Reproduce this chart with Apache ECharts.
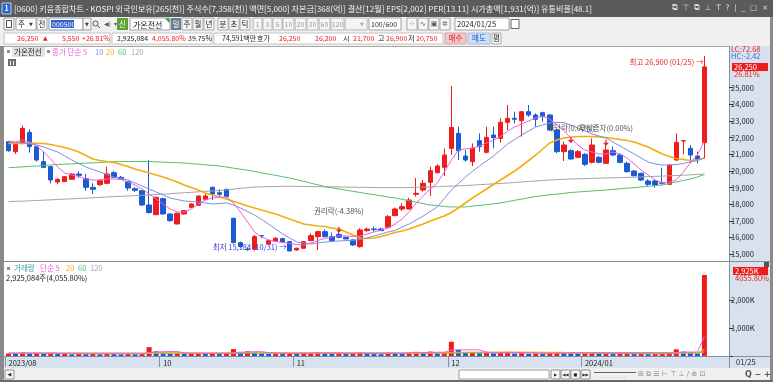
<!DOCTYPE html>
<html><head><meta charset="utf-8">
<script src="https://cdn.jsdelivr.net/npm/echarts@6/dist/echarts.min.js"></script>
<style>html,body{margin:0;padding:0;background:#fff;overflow:hidden}#c{width:773px;height:382px}</style>
</head><body><div id="c"></div>
<script>
// ---------------- DATA ----------------
const dates = ['2023/08/29','2023/08/30','2023/08/31','2023/09/01','2023/09/04','2023/09/05','2023/09/06','2023/09/07','2023/09/08','2023/09/11','2023/09/12','2023/09/13','2023/09/14','2023/09/15','2023/09/18','2023/09/19','2023/09/20','2023/09/21','2023/09/22','2023/09/25','2023/09/26','2023/09/27','2023/10/04','2023/10/05','2023/10/06','2023/10/10','2023/10/11','2023/10/12','2023/10/13','2023/10/16','2023/10/17','2023/10/18','2023/10/19','2023/10/20','2023/10/23','2023/10/24','2023/10/25','2023/10/26','2023/10/27','2023/10/30','2023/10/31','2023/11/01','2023/11/02','2023/11/03','2023/11/06','2023/11/07','2023/11/08','2023/11/09','2023/11/10','2023/11/13','2023/11/14','2023/11/15','2023/11/16','2023/11/17','2023/11/20','2023/11/21','2023/11/22','2023/11/23','2023/11/24','2023/11/27','2023/11/28','2023/11/29','2023/11/30','2023/12/01','2023/12/04','2023/12/05','2023/12/06','2023/12/07','2023/12/08','2023/12/11','2023/12/12','2023/12/13','2023/12/14','2023/12/15','2023/12/18','2023/12/19','2023/12/20','2023/12/21','2023/12/22','2023/12/26','2023/12/27','2023/12/28','2024/01/02','2024/01/03','2024/01/04','2024/01/05','2024/01/08','2024/01/09','2024/01/10','2024/01/11','2024/01/12','2024/01/15','2024/01/16','2024/01/17','2024/01/18','2024/01/19','2024/01/22','2024/01/23','2024/01/24','2024/01/25'];
const open = [21760,21160,21660,22320,21460,20560,20260,19340,19360,19500,19820,19540,19020,19180,19260,19900,19620,19360,18940,18820,17960,17380,18340,17420,16820,17420,17820,17940,18300,19020,18700,18900,17160,15700,15300,15300,16120,15620,15800,15940,15760,15260,15360,15820,16060,16360,16060,16200,16020,15860,15460,16420,16520,16520,16620,17320,17720,17720,18600,18860,19320,19900,20220,21360,22260,20900,20560,21820,21120,22160,21960,22920,23160,23020,23560,23360,23500,23360,22460,21160,21220,20820,21000,20520,20820,20460,21220,20960,20460,20000,19860,19400,19400,19300,19200,20660,21800,21360,20900,21700];
const close = [21220,21620,22560,21460,20660,20220,19460,19500,19660,19820,19740,19020,18900,19420,19820,19620,19500,18980,18840,17960,17500,18420,17420,17020,17460,17620,18020,18500,18500,18620,18600,18460,15700,15460,15280,16060,16100,15820,15960,15740,15200,15360,15760,16120,16360,16060,15820,16020,15920,15560,16460,16520,16480,16420,17260,17720,17860,18260,18660,19260,20020,20300,20960,22620,21220,20660,21360,21460,22020,22000,22920,23160,23100,23560,23360,23100,23260,22460,21160,21560,20720,21160,20400,21560,20520,21260,20960,20520,19960,19720,19460,19200,19160,19260,20360,21720,21820,20960,20700,26250];
const low = [21150,21020,21600,21100,20560,20200,19260,19200,19340,19480,19580,18820,18620,19100,19200,19600,19460,18820,18740,17900,17460,17340,17380,16960,16800,17380,17780,17900,18240,18260,18400,18420,15660,15400,15220,15260,15960,15580,15740,15700,15184,15220,15320,15800,15260,16020,15780,15960,15900,15500,15400,16360,16360,16400,16600,17300,17600,17700,18460,18760,18500,19860,19700,20960,20660,20560,20300,21160,21060,21360,21700,22460,22860,22060,23260,22660,22960,22400,21060,20600,20700,20760,20300,20460,20460,20420,20900,20460,19900,19660,19400,19060,19000,19180,19160,20600,21000,20460,20460,20750];
const high = [21800,21700,22740,22500,21500,21160,20300,19560,19700,19860,19980,19820,19260,19500,20260,20000,19700,19400,19020,18860,20660,18460,18400,17460,17500,17660,18060,18540,18620,19060,18900,18940,17200,15760,15400,16160,16140,15880,16040,16000,15800,15400,15800,16260,16400,16500,16300,16360,16060,15900,16560,16600,16660,16600,17360,17800,18060,18400,19580,19460,20260,20400,21360,25100,22660,21260,21660,22260,22660,22660,23160,23960,23560,23600,23960,23460,23560,23400,22560,21760,21300,21260,21060,21960,20900,21660,21460,21060,20560,20060,19900,19500,19500,20200,20400,22260,21820,21560,21160,26900];
const ma5 = [21800,21740,21860,21740,21500,21140,20720,20240,19880,19760,19670,19520,19460,19460,19520,19520,19490,19340,19160,18920,18620,18320,18020,17720,17540,17540,17720,18020,18260,18380,18440,18440,18080,17540,16940,16340,16040,15860,15770,15710,15650,15590,15560,15680,15830,15950,16040,16100,16100,16070,16100,16220,16340,16460,16580,16820,17120,17540,18080,18500,18920,19280,19940,20660,21260,21320,21380,21500,21680,21860,22070,22400,22640,22820,23000,23180,23300,23120,22760,22400,21980,21560,21260,21140,21020,21020,21140,21020,20780,20420,20060,19760,19460,19280,19340,19460,19940,20480,20960,21800];
const ma10 = [21740,21710,21680,21660,21560,21440,21290,21140,20900,20660,20450,20240,20090,19940,19790,19640,19550,19460,19280,19100,18920,18740,18560,18380,18290,18200,18170,18140,18080,18020,18050,18080,17960,17780,17570,17360,17090,16820,16520,16220,15980,15740,15680,15620,15680,15740,15770,15800,15820,15830,15890,15980,16100,16220,16340,16430,16640,16820,17060,17300,17570,17840,18350,18860,19250,19640,19970,20300,20600,20900,21260,21620,21890,22160,22400,22640,22760,22880,22910,22910,22760,22580,22400,22220,22100,21980,21740,21500,21260,21020,20780,20540,20420,20360,20360,20390,20450,20540,20630,20780];
const ma20 = [21660,21660,21660,21660,21660,21650,21590,21500,21410,21290,21140,20930,20720,20630,20570,20510,20390,20270,20120,20000,19880,19760,19640,19490,19340,19160,19010,18860,18680,18560,18440,18320,18170,18050,17900,17780,17660,17540,17420,17270,17120,16970,16820,16760,16700,16670,16580,16520,16340,16160,15980,15950,15980,16070,16190,16310,16400,16520,16670,16820,17000,17150,17300,17510,17780,18080,18380,18650,18920,19190,19460,19730,20000,20300,20630,20960,21320,21680,21860,21980,22040,22070,22070,22070,22040,22010,21950,21890,21830,21740,21590,21440,21230,21020,20870,20750,20690,20630,20660,20780];
const ma60 = [20200,20220,20250,20280,20300,20330,20360,20390,20410,20430,20450,20470,20490,20510,20540,20560,20560,20570,20570,20570,20570,20550,20530,20510,20500,20480,20440,20410,20370,20340,20300,20240,20170,20110,20040,19970,19890,19810,19740,19660,19580,19480,19380,19270,19170,19070,18990,18920,18850,18780,18710,18640,18580,18510,18440,18380,18300,18210,18130,18040,17960,17920,17870,17840,17840,17840,17890,17940,17980,18030,18080,18160,18240,18310,18390,18470,18520,18570,18610,18660,18710,18740,18770,18800,18830,18860,18900,18930,18970,19000,19040,19080,19120,19160,19250,19340,19430,19520,19640,19790];
const ma120 = [18160,18180,18190,18210,18230,18250,18270,18290,18310,18330,18350,18370,18390,18420,18440,18460,18480,18500,18520,18540,18560,18590,18610,18640,18670,18690,18720,18750,18780,18800,18830,18870,18910,18960,19000,19040,19050,19060,19070,19080,19080,19080,19070,19060,19060,19050,19050,19040,19030,19030,19020,19020,19010,19000,19000,19000,19000,19010,19020,19030,19040,19060,19080,19090,19110,19130,19150,19180,19200,19230,19250,19280,19310,19340,19370,19400,19430,19460,19480,19500,19520,19530,19540,19560,19570,19580,19590,19600,19620,19630,19640,19660,19680,19690,19710,19730,19750,19770,19790,19820];
// volume in thousands of shares
const vol = [90,75,130,95,110,80,100,70,85,60,75,70,90,65,95,70,60,80,65,100,320,170,120,90,110,75,85,100,80,95,70,85,250,150,170,130,90,75,85,70,110,85,95,110,140,100,80,95,70,80,130,85,70,65,120,100,90,130,150,120,160,110,140,516,217,110,140,100,130,95,140,150,90,110,80,90,70,110,140,100,90,75,95,120,80,100,70,85,95,70,80,65,70,90,110,242,160,120,95,2925];
const vma5 = [95,92,100,98,100,98,103,91,89,79,78,72,76,72,79,78,76,74,74,75,125,147,155,160,162,113,96,92,90,89,86,86,116,130,145,157,158,123,110,90,86,85,87,90,108,108,105,104,97,85,91,92,87,86,94,94,89,101,118,118,130,134,136,209,229,219,225,217,143,115,121,123,121,117,114,104,88,92,98,102,102,103,100,96,93,94,94,91,90,84,81,79,76,75,83,115,134,144,145,708];
const vma20 = [95,95,96,96,97,97,97,96,96,95,94,93,92,91,91,90,89,88,87,87,98,103,105,106,107,106,106,107,108,109,110,111,118,122,126,128,128,126,125,124,115,110,108,106,107,107,106,106,105,97,97,97,96,95,96,96,97,100,103,106,108,109,111,131,135,136,138,139,141,142,143,144,144,143,141,139,136,134,134,133,109,106,104,103,102,101,100,99,98,97,96,95,94,94,95,102,106,108,108,250];
const vma60 = [102,102,101,101,101,100,100,100,99,99,99,99,98,98,98,98,97,97,97,97,100,101,101,101,101,101,101,101,101,101,101,101,104,105,106,107,107,107,107,107,107,107,107,107,108,108,108,108,108,108,108,108,108,108,108,108,108,109,110,110,111,111,112,119,122,121,122,122,122,122,123,124,124,124,124,124,124,124,124,125,123,122,121,121,121,121,121,120,120,120,120,120,119,119,119,121,122,122,122,170];
const vma120 = [108,108,108,108,108,107,107,107,107,107,107,107,106,106,106,106,106,106,105,105,107,107,107,107,107,107,107,107,107,107,107,107,109,109,110,110,110,110,110,110,109,109,109,109,109,109,109,109,108,108,108,108,108,108,108,108,108,108,108,108,108,108,108,112,113,113,113,113,113,113,113,113,113,113,113,113,113,113,113,113,113,113,113,113,113,113,113,113,113,113,114,114,114,114,114,115,116,116,116,140];
// x-axis month labels
const tickIdx = [0,22,41,63,82];
const tickText = ['2023/08','10','11','12','2024/01'];
// price axes: data range of panel and labelled tick range
const priceLo = 14000, priceHi = 28000;
const priceTickMin = 15000, priceTickMax = 25000, priceStep = 1000;
const volHi = 3000, volTickMax = 2000, volStep = 1000;
// corporate-event markers
const evIdx = [47,80,85];
const evText = ['권리락(-4.38%)','배당락(0.00%)','무상증자(0.00%)'];
const evArrowPrice = [16480,21860,21700];
const evLabelPrice = [17600,22600,22600];

// ---------------- STYLE ----------------
const FONT = '"Noto Sans CJK KR","Noto Sans",sans-serif';
const RED = '#ee1c1c', BLUE = '#1a5bd4';
const C5 = '#f060dc', C10 = '#7c8ee6', C20 = '#f5ac10', C60 = '#55c06a', C120 = '#a4a4a4';
const fmt = v => v.toLocaleString('en-US');
const cats = dates.concat([' ', '  ', '   ']);

let hiIdx = 0, loIdx = 0;
high.forEach((v,i)=>{ if (v > high[hiIdx]) hiIdx = i; });
low.forEach((v,i)=>{ if (v < low[loIdx]) loIdx = i; });

// ---------------- CHROME ----------------
const G = [];
const R = (x,y,w,h,fill,stroke,z) => G.push({type:'rect',silent:true,z:z===undefined?-10:z,shape:{x,y,width:w,height:h},style:{fill:fill||'none',stroke:stroke||null,lineWidth:1}});
const L = (x1,y1,x2,y2,c,z) => G.push({type:'line',silent:true,z:z===undefined?-9:z,shape:{x1,y1,x2,y2},style:{stroke:c,lineWidth:1}});
const T = (x,y,t,c,s,o) => { o=o||{}; G.push({type:'text',silent:true,z:o.z===undefined?40:o.z,x:x,y:y,style:{text:t,fill:c,font:(o.w||'normal')+' '+s+'px '+(o.f||FONT),textAlign:o.a||'left',textVerticalAlign:'middle',align:o.a||'left',verticalAlign:'middle'}}); };

// title bar
R(0,0,773,17,'#5b5b5b');
R(2,3,9,11,'#2b67d2','#b9cdf0');
T(6.5,8.5,'1','#ffffff',7,{a:'center',w:'bold'});
T(14,8.5,'[0600] 키움종합차트 - KOSPI 외국인보유[265(천)] 주식수[7,358(천)] 액면[5,000] 자본금[368(억)] 결산[12월] EPS[2,002] PER[13.11] 시가총액[1,931(억)] 유통비율[48.1]','#f2f2f2',8.1);
T(672,8.5,'⧉  ⊤  ⧉  ⊥  T  ?  |  _  □  ×','#d8d8d8',7.5,{f:'DejaVu Sans'});
// toolbar
R(0,17,773,15,'#f0f0f0');
R(4,18,10,12,'#fafafa','#a0a0a0'); R(6.5,20.5,5,7,null,'#555');
R(16,18,20,12,'#ffffff','#a0a0a0'); T(18,24.5,'주','#222',7.5); T(31,24.5,'▼','#444',5,{a:'center',f:'DejaVu Sans'});
R(37,18,10,12,'#fafafa','#a0a0a0'); T(42,24.5,'전','#222',7.5,{a:'center'});
R(49,18,34,12,'#ffffff','#7f9db9'); R(51,20,23,8,'#3163c6'); T(52,24.5,'000500','#ffffff',7);
R(83,18,8,12,'#f4f4f4','#a0a0a0'); T(87,24.5,'▼','#444',5,{a:'center',f:'DejaVu Sans'});
G.push({type:'circle',silent:true,z:-8,shape:{cx:95.5,cy:23.5,r:2.5},style:{fill:'none',stroke:'#555',lineWidth:1}}); L(97.5,25.5,100,28,'#555');
T(104,24.5,'◀)','#555',6,{f:'DejaVu Sans'}); T(114,24.5,'▾','#555',6,{f:'DejaVu Sans'});
R(117,18,11,12,'#5aa332'); T(122.5,24.5,'신','#ffffff',7.5,{a:'center'});
R(130,18,40,12,'#ffffff','#a0a0a0'); T(133,24.5,'가온전선','#111',8);
G.push({type:'polygon',silent:true,z:-8,shape:{points:[[165,18.5],[169.5,18.5],[169.5,23]]},style:{fill:'#2a9a2a'}});
R(171,18,10,12,'#6a7a92'); T(176,24.5,'일','#ffffff',7.5,{a:'center'});
[['주',182],['월',193],['년',204],['분',218],['초',229],['틱',240]].forEach(b=>{R(b[1],18,10,12,'#f6f6f6','#a8a8a8');T(b[1]+5,24.5,b[0],'#222',7.5,{a:'center'});});
[['1',253,9],['3',263,9],['5',273,9],['10',283,11],['20',295,11],['30',307,11],['60',319,11],['120',331,13]].forEach(b=>{R(b[1],18,b[2],12,'#f6f6f6','#b4b4b4');T(b[1]+b[2]/2,24.5,b[0],'#999',7,{a:'center'});});
R(345,18,22,12,'#f4f4f4','#b8b8b8'); T(362,24.5,'▼','#aaa',5,{a:'center',f:'DejaVu Sans'});
R(369,18,32,12,'#ffffff','#a0a0a0'); T(371,24.5,'100/600','#222',7);
[['⁘',407],['∿',418],['▣',429],['✲',440]].forEach(b=>{R(b[1],18,10,12,'#f6f6f6','#a8a8a8');T(b[1]+5,24.5,b[0],'#555',7,{a:'center',f:'DejaVu Sans'});});
R(455,18,54,12,'#ffffff','#a0a0a0'); T(457,24.5,'2024/01/25','#222',7.5);
R(511,19.5,8,9,'#ffffff','#666');
// info row
R(0,32,773,14,'#f0f0f0');
R(4,33,106,11,'#ffffff','#c4c4c4');
T(17,38.5,'26,250',RED,7); T(43,38.5,'▲',RED,6,{f:'DejaVu Sans'}); T(62,38.5,'5,550',RED,7); T(82,38.5,'+26.81%',RED,7);
R(112,33,100,11,'#ffffff','#c4c4c4');
T(117,38.5,'2,925,084','#222',7); T(152,38.5,'4,055.80%',RED,7); T(188,38.5,'39.75%','#222',7);
R(214,33,229,11,'#ffffff','#c4c4c4');
T(222,38.5,'74,591백만','#222',7); T(257,38.5,'호가','#222',7); T(279,38.5,'26,250',RED,7); T(315,38.5,'26,200',RED,7);
T(343,38.5,'시','#222',7); T(353,38.5,'21,700',RED,7); T(378,38.5,'고','#222',7); T(386,38.5,'26,900',RED,7); T(408,38.5,'저','#222',7); T(416,38.5,'20,750',RED,7);
R(445,33,21,11,'#f6c6c6','#d4a4a4'); T(455.5,38.5,'매수','#d02020',7.5,{a:'center'});
R(468,33,22,11,'#cfe0f6','#a4bcd8'); T(479,38.5,'매도','#2050c0',7.5,{a:'center'});
R(492,33,9,11,'#f6f6f6','#b0b0b0'); T(496.5,38.5,'평','#222',7.5,{a:'center'});
// frame / panels
R(0,46,4,336,'#8a8a8a');
R(770,17,3,365,'#8a8a8a');
L(4,46.5,729,46.5,'#a8a8a8');
R(729,46,41,311,'#d8e2ee');
L(729.5,46,729.5,368,'#7f90a8');
L(4,261.5,770,261.5,'#8c8c8c');
R(4,357,766,11,'#d8e2ee');
L(4,356.5,770,356.5,'#7f90a8');
R(4,368,766,12,'#f0f0f0');
R(0,380,773,2,'#6b6b6b');
// legends
R(7,50,3,3,'#909090'); R(12,47,33,10,'#e2e2e2'); T(14,52,'가온전선','#222',7.5);
R(47,50,3,3,'#909090'); T(52,52,'종가 단순 5',C5,7.5); T(95,52,'10',C10,7.5); T(106,52,'20',C20,7.5); T(118,52,'60',C60,7.5); T(131,52,'120',C120,7.5);
R(8,59,8,7,'#6d6d6d'); L(10.5,61,10.5,65,'#fff',-8); L(13.5,61,13.5,65,'#fff',-8);
R(7,267,3,3,'#909090'); T(14,268.5,'거래량','#3aa0a0',7.5); T(40,268.5,'단순 5',C5,7.5); T(66,268.5,'20',C20,7.5); T(78,268.5,'60',C60,7.5); T(90,268.5,'120',C120,7.5);
T(6,278,'2,925,084주(4,055.80%)','#222',7.5);
// right panel labels
T(731,49.5,'LC:72.68','#e8231e',7.5); T(731,56.5,'HC:-2.42','#3a6ad8',7.5);
R(732,63,36,8,RED,null,30); T(734,67,fmt(close[99]),'#ffffff',7.5);
T(734,74,'26.81%','#e8231e',7.5);
R(733,267,35,8,RED,null,30); T(735,271,'2,925K','#ffffff',7.5); T(735,278.5,'4055.80%','#e8231e',7.5);
R(764,262,5,5,'#555',null,30);
T(736,362.5,dates[99].slice(5),'#222',7.5);
// bottom bar
R(5,370,9,9,'#f8f8f8','#909090'); T(9.5,374.5,'◀','#222',5,{a:'center',f:'DejaVu Sans'});
R(459,370,90,9,'#ffffff','#a0a0a0');
[['▶',551],['◀◀',561],['■',571],['▶▶',581]].forEach(b=>{R(b[1],370,9,9,'#f6f6f6','#909090');T(b[1]+4.5,374.5,b[0],'#222',4,{a:'center',f:'DejaVu Sans'});});
L(594,372.5,636,372.5,'#666'); T(596,377,'· · · · · · · ·','#666',5);
T(638,374.5,'⊞ ⧉ ☰ ⊢ ⊤ ⊥ ∕ ⊕ ⊡','#8a8a8a',7,{f:'DejaVu Sans'});
T(745,374.5,'Q − + A','#555',8,{w:'bold',f:'DejaVu Sans'});

// ---------------- CHART ----------------
const arrowPath = 'path://M4,0 L6,0 L6,5 L10,5 L5,10 L0,5 L4,5 Z';
const mpData = [
  {coord:[hiIdx, high[hiIdx]], symbolSize:0, label:{show:true, position:'left', distance:1, offset:[0,6], formatter:'최고 '+fmt(high[hiIdx])+' ('+dates[hiIdx].slice(5)+') →', color:'#e8231e', fontSize:7.5, fontFamily:FONT}},
  {coord:[loIdx, low[loIdx]], symbolSize:0, label:{show:true, position:'left', distance:3, offset:[0,-4], formatter:'최저 '+fmt(low[loIdx])+' ('+dates[loIdx].slice(5)+') →', color:'#3838d8', fontSize:7.5, fontFamily:FONT}}
];
evIdx.forEach((ix,k)=>{
  mpData.push({coord:[ix, evArrowPrice[k]], symbol:arrowPath, symbolSize:[6,6], itemStyle:{color:RED}, label:{show:false}});
  mpData.push({coord:[ix, evLabelPrice[k]], symbolSize:0, label:{show:true, position:'inside', formatter:evText[k], color:'#555', fontSize:7.5, fontFamily:FONT}});
});

const lineS = (data, color, w, xi) => ({type:'line', xAxisIndex:xi||0, yAxisIndex:xi||0, data, symbol:'none', smooth:false, silent:true, lineStyle:{color, width:w}, z:3});
const PX = 166.6/10000;         // px per won
const VPX = 27.7/1000;          // px per thousand shares
const priceBottom = 254.3, volBottom = 356;
const gridBase = {left:5, width:724, containLabel:false, outerBoundsMode:'none', show:false};
const hiddenX = gi => ({type:'category', gridIndex:gi, data:cats, boundaryGap:true, show:false});
const lbl = {margin:2, color:'#222', fontSize:7.5, fontFamily:FONT};

const option = {
  animation:false,
  backgroundColor:'#ffffff',
  textStyle:{fontFamily:FONT},
  graphic:{elements:G},
  grid:[
    Object.assign({top:priceBottom-(priceHi-15000)*PX, height:(priceHi-priceLo)*PX}, gridBase),
    Object.assign({top:volBottom-volHi*VPX, height:volHi*VPX}, gridBase),
    Object.assign({top:priceBottom-(priceTickMax-priceTickMin)*PX, height:(priceTickMax-priceTickMin)*PX}, gridBase),
    Object.assign({top:volBottom-volTickMax*VPX, height:volTickMax*VPX}, gridBase)
  ],
  xAxis:[
    hiddenX(0),
    {type:'category', gridIndex:1, data:cats, boundaryGap:true,
      axisLine:{show:true, lineStyle:{color:'#7f90a8'}},
      axisTick:{show:true, length:11, interval:(i)=>tickIdx.indexOf(i)>=0, lineStyle:{color:'#7f90a8'}},
      axisLabel:Object.assign({show:true, interval:(i)=>tickIdx.indexOf(i)>=0, formatter:(v,i)=>{const k=tickIdx.indexOf(i);return k>=0?tickText[k]:'';}, align:'left'}, lbl, {margin:3}),
      splitLine:{show:false}},
    hiddenX(2), hiddenX(3)
  ],
  yAxis:[
    {type:'value', gridIndex:0, min:priceLo, max:priceHi, show:false, splitLine:{show:false}},
    {type:'value', gridIndex:1, min:0, max:volHi, show:false, splitLine:{show:false}},
    {type:'value', gridIndex:2, position:'right', min:priceTickMin, max:priceTickMax, interval:priceStep,
      axisLine:{show:false}, axisTick:{show:true, length:4, lineStyle:{color:'#333'}},
      axisLabel:Object.assign({formatter:v=>fmt(v), showMinLabel:true, showMaxLabel:true, hideOverlap:false}, lbl), splitLine:{show:false}},
    {type:'value', gridIndex:3, position:'right', min:0, max:volTickMax, interval:volStep,
      axisLine:{show:false}, axisTick:{show:true, length:4, lineStyle:{color:'#333'}},
      axisLabel:Object.assign({formatter:v=>v>0?fmt(v)+'K':'', showMinLabel:true, showMaxLabel:true, hideOverlap:false}, lbl), splitLine:{show:false}}
  ],
  series:[
    {type:'candlestick', xAxisIndex:0, yAxisIndex:0, barWidth:5, silent:true,
      data: open.map((o,i)=>[o, close[i], low[i], high[i]]),
      itemStyle:{color:RED, color0:BLUE, borderColor:RED, borderColor0:BLUE, borderWidth:1},
      markPoint:{silent:true, animation:false, symbol:'circle', data:mpData}, z:2},
    lineS(ma120, C120, 1), lineS(ma60, C60, 1), lineS(ma20, C20, 1.6), lineS(ma10, C10, 1), lineS(ma5, C5, 1),
    {type:'bar', xAxisIndex:1, yAxisIndex:1, data:vol, barWidth:5, silent:true,
      itemStyle:{color:(p)=> (p.dataIndex===0 || vol[p.dataIndex]>=vol[p.dataIndex-1]) ? RED : BLUE}},
    lineS(vma120, C120, 1, 1), lineS(vma60, C60, 1, 1), lineS(vma20, C20, 1, 1), lineS(vma5, C5, 1, 1)
  ]
};
const chart = echarts.init(document.getElementById('c'), null, {renderer:'canvas', width:773, height:382});
chart.setOption(option);
</script>
</body></html>
